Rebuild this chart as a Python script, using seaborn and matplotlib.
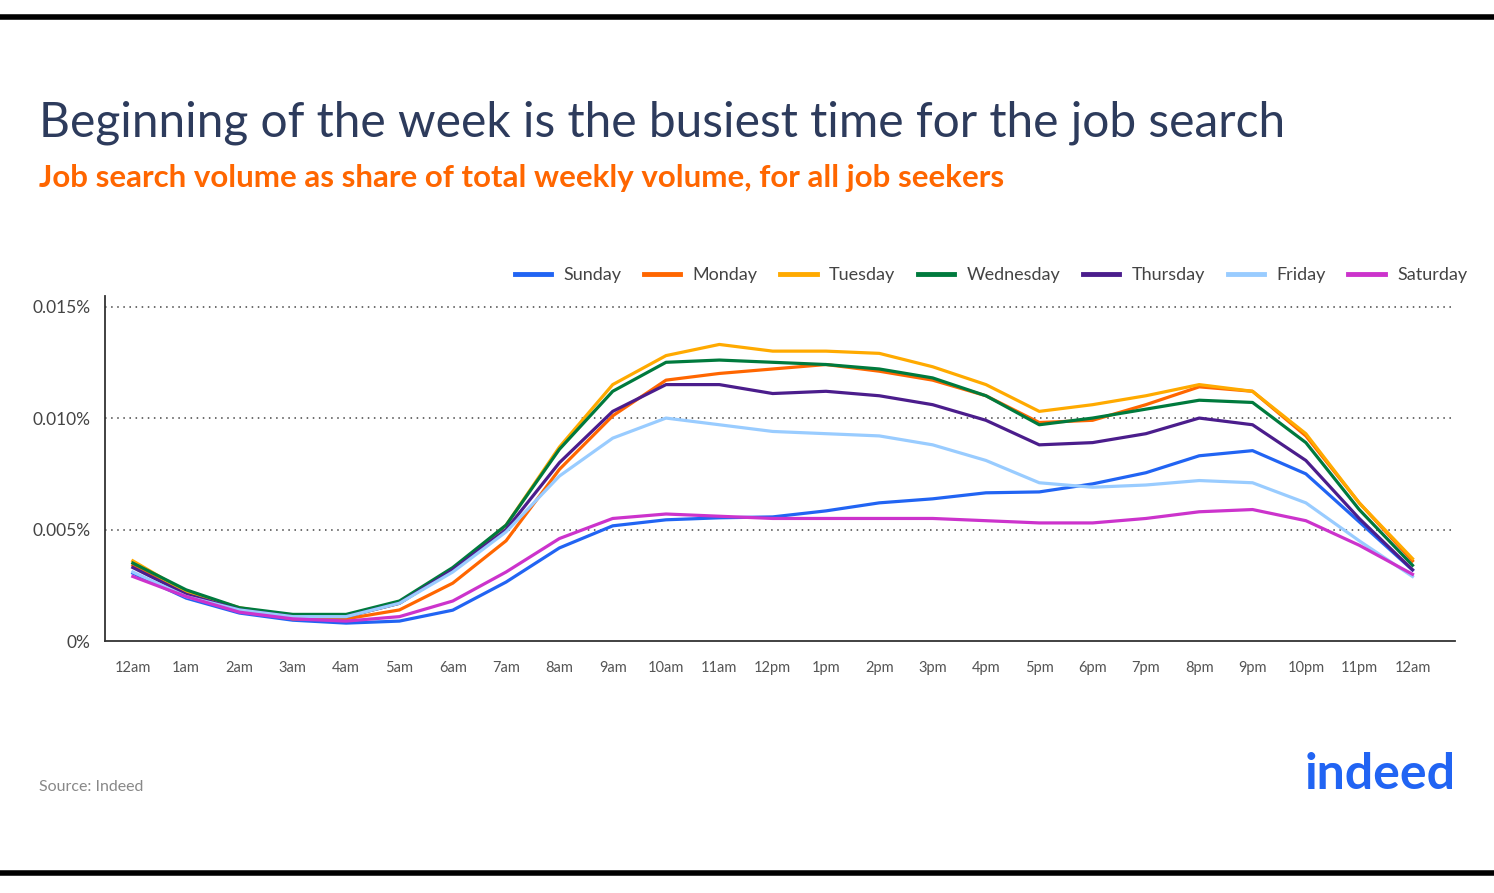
import numpy as np
import pandas as pd
import matplotlib
matplotlib.use("Agg")
import matplotlib.pyplot as plt
import seaborn as sns

hours = list(range(25))
hour_labels = ["12am", "1am", "2am", "3am", "4am", "5am", "6am", "7am", "8am", "9am", "10am", "11am",
               "12pm", "1pm", "2pm", "3pm", "4pm", "5pm", "6pm", "7pm", "8pm", "9pm", "10pm", "11pm", "12am"]

sunday = [0.00305, 0.00193, 0.00126, 0.00094, 0.00081, 0.0009, 0.00139, 0.00265, 0.00418, 0.00517, 0.00544,
          0.00553, 0.00557, 0.00584, 0.0062, 0.00638, 0.00665, 0.00669, 0.00705, 0.00755, 0.00831, 0.00854,
          0.0075, 0.00535, 0.00319]
monday = [0.0034, 0.0021, 0.0014, 0.0010, 0.0010, 0.0014, 0.0026, 0.0045, 0.0077, 0.0101, 0.0117, 0.0120,
          0.0122, 0.0124, 0.0121, 0.0117, 0.0110, 0.0098, 0.0099, 0.0106, 0.0114, 0.0112, 0.0092, 0.0062, 0.0036]
tuesday = [0.0036, 0.0022, 0.0015, 0.0011, 0.0011, 0.0017, 0.0032, 0.0052, 0.0087, 0.0115, 0.0128, 0.0133,
           0.0130, 0.0130, 0.0129, 0.0123, 0.0115, 0.0103, 0.0106, 0.0110, 0.0115, 0.0112, 0.0093, 0.0062, 0.0037]
wednesday = [0.0035, 0.0023, 0.0015, 0.0012, 0.0012, 0.0018, 0.0033, 0.0052, 0.0086, 0.0112, 0.0125, 0.0126,
             0.0125, 0.0124, 0.0122, 0.0118, 0.0110, 0.0097, 0.0100, 0.0104, 0.0108, 0.0107, 0.0089, 0.0059, 0.0034]
thursday = [0.0033, 0.0021, 0.0014, 0.0011, 0.0011, 0.0017, 0.0032, 0.0050, 0.0080, 0.0103, 0.0115, 0.0115,
            0.0111, 0.0112, 0.0110, 0.0106, 0.0099, 0.0088, 0.0089, 0.0093, 0.0100, 0.0097, 0.0081, 0.0055, 0.0032]
friday = [0.0031, 0.0020, 0.0014, 0.0011, 0.0011, 0.0017, 0.0031, 0.0049, 0.0074, 0.0091, 0.0100, 0.0097,
          0.0094, 0.0093, 0.0092, 0.0088, 0.0081, 0.0071, 0.0069, 0.0070, 0.0072, 0.0071, 0.0062, 0.0045, 0.0029]
saturday = [0.0029, 0.0020, 0.0013, 0.0010, 0.0009, 0.0011, 0.0018, 0.0031, 0.0046, 0.0055, 0.0057, 0.0056,
            0.0055, 0.0055, 0.0055, 0.0055, 0.0054, 0.0053, 0.0053, 0.0055, 0.0058, 0.0059, 0.0054, 0.0043, 0.0030]

days = ["Sunday", "Monday", "Tuesday", "Wednesday", "Thursday", "Friday", "Saturday"]
colors = ["#2164f3", "#ff6600", "#ffaa00", "#007a3d", "#4b1d8c", "#99ccff", "#cc33cc"]
series = [sunday, monday, tuesday, wednesday, thursday, friday, saturday]

df = pd.concat([pd.DataFrame({"hour": hours, "share": s, "day": d}) for d, s in zip(days, series)])

plt.rcParams["font.family"] = "Lato"
fig = plt.figure(figsize=(14.94, 8.93), dpi=100)
ax = fig.add_axes([0.070, 0.282, 0.904, 0.386])
sns.lineplot(data=df, x="hour", y="share", hue="day", palette=dict(zip(days, colors)),
             linewidth=2.3, ax=ax, legend=False)

ax.set_xlim(-0.53, 24.8)
ax.set_ylim(0, 0.01545)
ax.set_xticks(hours)
ax.set_xticklabels(hour_labels, fontsize=10.5, color="#555555")
ax.set_yticks([0, 0.005, 0.010, 0.015])
ax.set_yticklabels(["0%", "0.005%", "0.010%", "0.015%"], fontsize=12.5, color="#444444")
ax.tick_params(length=0, pad=14)
ax.tick_params(axis="y", pad=10)
for y in [0.005, 0.010, 0.015]:
    ax.axhline(y, color="#444444", linestyle=(0, (1, 3)), linewidth=1.1, zorder=0)
for s in ["top", "right"]:
    ax.spines[s].set_visible(False)
for s in ["left", "bottom"]:
    ax.spines[s].set_color("#333333")
    ax.spines[s].set_linewidth(1.3)
ax.set_xlabel("")
ax.set_ylabel("")

handles = [plt.Line2D([], [], color=c, linewidth=3.5) for c in colors]
fig.legend(handles, days, loc="center right", bbox_to_anchor=(0.993, 0.692), ncol=7, frameon=False,
           fontsize=13, labelcolor="#444444", handlelength=2.0, handletextpad=0.7, columnspacing=1.25)

fig.text(0.026, 0.862, "Beginning of the week is the busiest time for the job search",
         fontsize=34.5, color="#2d3b5c", va="center")
fig.text(0.026, 0.801, "Job search volume as share of total weekly volume, for all job seekers",
         fontsize=22.5, color="#ff6600", fontweight="bold", va="center")
fig.text(0.026, 0.119, "Source: Indeed", fontsize=11.5, color="#888888", va="center")
fig.text(0.974, 0.133, "indeed", fontsize=36, color="#2164f3", fontweight="bold",
         ha="right", va="center")

fig.add_artist(plt.Line2D([0, 1], [0.981, 0.981], color="black", linewidth=4))
fig.add_artist(plt.Line2D([0, 1], [0.022, 0.022], color="black", linewidth=4))

fig.savefig("out.png", dpi=100)
